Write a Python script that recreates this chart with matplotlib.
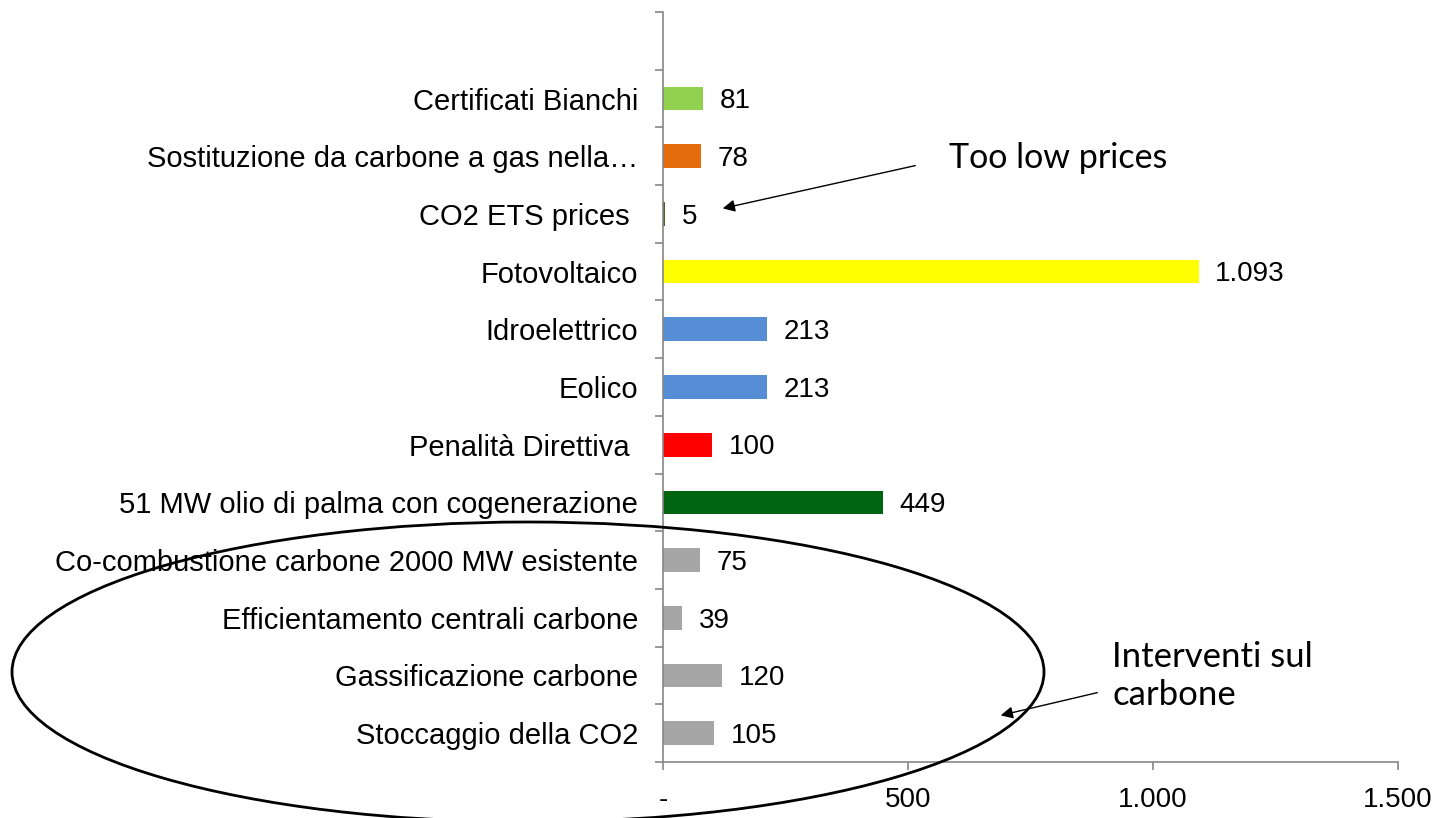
import numpy as np
import matplotlib
matplotlib.use('Agg')
import matplotlib.pyplot as plt
from matplotlib.patches import Ellipse
from matplotlib.ticker import FixedLocator

# categories from bottom to top (Excel order)
labels = ['Stoccaggio della CO2', 'Gassificazione carbone', 'Efficientamento centrali carbone',
          'Co-combustione carbone 2000 MW esistente', '51 MW olio di palma con cogenerazione',
          'Penalità Direttiva ', 'Eolico', 'Idroelettrico', 'Fotovoltaico', 'CO2 ETS prices ',
          'Sostituzione da carbone a gas nella…', 'Certificati Bianchi']
values = [105, 120, 39, 75, 449, 100, 213, 213, 1093, 5, 78, 81]
colors = ['#a6a6a6', '#a6a6a6', '#a6a6a6', '#a6a6a6', '#006411', '#ff0000', '#558ed5',
          '#558ed5', '#ffff00', '#4f6228', '#e46c0a', '#92d050']
xticks = [0, 500, 1000, 1500]
xticklabels = ['-', '500', '1.000', '1.500']

plt.rcParams['font.family'] = ['Liberation Sans', 'DejaVu Sans']

fig = plt.figure(figsize=(14.4, 8.18), dpi=100)
ax = fig.add_axes([663 / 1440, 1 - 762 / 818, (1398 - 663) / 1440, 750 / 818])

y = np.arange(len(values))
ax.barh(y, values, height=0.41, color=colors)
for yi, v in zip(y, values):
    ax.annotate(f'{v:,}'.replace(',', '.'), (v, yi), xytext=(12, -2), textcoords='offset points',
                ha='left', va='center', fontsize=20)

ax.set_xlim(0, 1500)
ax.set_ylim(-0.5, len(values) + 0.5)
ax.set_xticks(xticks)
ax.set_xticklabels(xticklabels, fontsize=20)
ax.set_yticks(y)
ax.set_yticklabels(labels, fontsize=21)
ax.yaxis.set_minor_locator(FixedLocator(np.arange(-0.5, len(values) + 1, 1)))
ax.tick_params(axis='y', which='major', length=0, pad=18)
ax.tick_params(axis='y', which='minor', length=6, color='#868686', width=1.2)
ax.tick_params(axis='x', length=6, color='#868686', width=1.2, pad=12)

for s in ['top', 'right']:
    ax.spines[s].set_visible(False)
for s in ['left', 'bottom']:
    ax.spines[s].set_color('#868686')
    ax.spines[s].set_linewidth(1.2)

# annotations
fig.text(949 / 1440, 1 - 158 / 818, 'Too low prices', fontsize=24.5, family='Lato',
         ha='left', va='center')
fig.text(1112 / 1440, 1 - 676 / 818, 'Interventi sul\ncarbone', fontsize=25, family='Lato',
         ha='left', va='center', linespacing=1.25)
ax.annotate('', xy=(720 / 1440, 1 - 209 / 818), xytext=(918 / 1440, 1 - 165 / 818),
            xycoords='figure fraction', textcoords='figure fraction',
            arrowprops=dict(arrowstyle='-|>', color='black', lw=1, mutation_scale=18))
ax.annotate('', xy=(998 / 1440, 1 - 716 / 818), xytext=(1100 / 1440, 1 - 692 / 818),
            xycoords='figure fraction', textcoords='figure fraction',
            arrowprops=dict(arrowstyle='-|>', color='black', lw=1, mutation_scale=18))

ell = Ellipse((528 / 1440, 1 - 672 / 818), 1032 / 1440, 300 / 818, angle=0,
              transform=fig.transFigure, fill=False, edgecolor='black', lw=2)
fig.patches.append(ell)

plt.savefig('out.png')
plt.close()
